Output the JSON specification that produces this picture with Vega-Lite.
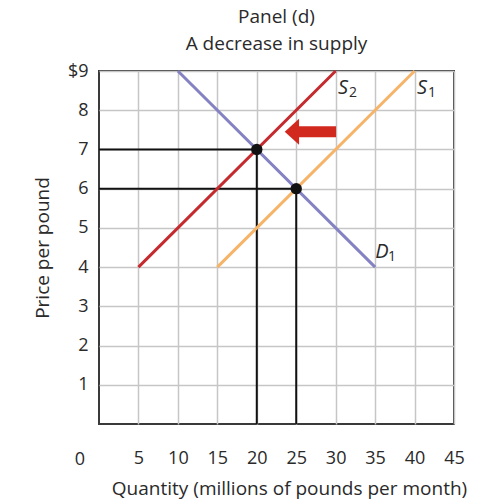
{
  "$schema": "https://vega.github.io/schema/vega-lite/v6.json",
  "width": 355,
  "height": 353,
  "autosize": {"type": "none"},
  "padding": {"left": 99, "top": 71, "right": 41, "bottom": 78},
  "background": "white",
  "config": {
    "font": "Open Sans",
    "view": {"stroke": "#3a3a3a", "strokeWidth": 2}
  },
  "title": {
    "text": ["Panel (d)", "A decrease in supply"],
    "fontSize": 19,
    "fontWeight": "normal",
    "color": "#2a2a2a",
    "anchor": "middle",
    "lineHeight": 27,
    "offset": 8
  },
  "encoding": {
    "x": {
      "field": "x",
      "type": "quantitative",
      "scale": {"domain": [0, 45], "nice": false, "zero": false},
      "axis": {
        "values": [5, 10, 15, 20, 25, 30, 35, 40, 45],
        "grid": true,
        "gridColor": "#c6c6c6",
        "gridWidth": 1.5,
        "domain": false,
        "ticks": false,
        "labelPadding": 25,
        "labelFontSize": 18,
        "labelColor": "#2a2a2a",
        "labelFlush": false,
        "labelOverlap": false,
        "title": "Quantity (millions of pounds per month)",
        "titleFontSize": 19,
        "titleFontWeight": "normal",
        "titleColor": "#2a2a2a",
        "titleBaseline": "middle",
        "titleY": 64,
        "titleX": 190
      }
    },
    "y": {
      "field": "y",
      "type": "quantitative",
      "scale": {"domain": [0, 9], "nice": false, "zero": false},
      "axis": {
        "values": [1, 2, 3, 4, 5, 6, 7, 8, 9],
        "grid": true,
        "gridColor": "#c6c6c6",
        "gridWidth": 1.5,
        "domain": false,
        "ticks": false,
        "labelPadding": 11,
        "labelFontSize": 18,
        "labelColor": "#2a2a2a",
        "labelExpr": "datum.value == 9 ? '$9' : datum.label",
        "title": "Price per pound",
        "titleFontSize": 19,
        "titleFontWeight": "normal",
        "titleColor": "#2a2a2a",
        "titleBaseline": "middle",
        "titleX": -57
      }
    }
  },
  "layer": [
    {
      "data": {"values": [
        {"x": 0, "y": 7, "x2": 20, "y2": 7},
        {"x": 20, "y": 7, "x2": 20, "y2": 0},
        {"x": 0, "y": 6, "x2": 25, "y2": 6},
        {"x": 25, "y": 6, "x2": 25, "y2": 0}
      ]},
      "mark": {"type": "rule", "color": "#111111", "strokeWidth": 2},
      "encoding": {"x2": {"field": "x2"}, "y2": {"field": "y2"}}
    },
    {
      "data": {"values": [
        {"s": "D1", "x": 10, "y": 9, "x2": 35, "y2": 4},
        {"s": "S2", "x": 5, "y": 4, "x2": 30, "y2": 9},
        {"s": "S1", "x": 15, "y": 4, "x2": 40, "y2": 9}
      ]},
      "mark": {"type": "rule", "strokeWidth": 3},
      "encoding": {
        "x2": {"field": "x2"},
        "y2": {"field": "y2"},
        "color": {
          "field": "s",
          "type": "nominal",
          "scale": {"domain": ["D1", "S2", "S1"], "range": ["#8482c2", "#c42a2e", "#f6b469"]},
          "legend": null
        }
      }
    },
    {
      "data": {"values": [{"x": 20, "y": 7}, {"x": 25, "y": 6}]},
      "mark": {"type": "point", "filled": true, "color": "#111111", "opacity": 1, "size": 130}
    },
    {
      "data": {"values": [{"x": 25.1, "y": 7.45, "x2": 30.05}]},
      "mark": {"type": "rule", "color": "#d2291f", "strokeWidth": 11, "strokeCap": "butt"},
      "encoding": {"x2": {"field": "x2"}}
    },
    {
      "data": {"values": [{"x": 24.45, "y": 7.45}]},
      "mark": {"type": "point", "filled": true, "color": "#d2291f", "opacity": 1, "size": 676, "shape": "M-0.55,0L0.55,-1L0.55,1Z"}
    },
    {
      "data": {"values": [
        {"x": 30.93, "y": 8.57, "main": "S", "sub": "2"},
        {"x": 40.94, "y": 8.57, "main": "S", "sub": "1"},
        {"x": 35.87, "y": 4.39, "main": "D", "sub": "1"}
      ]},
      "mark": {"type": "text", "fontSize": 20, "fontStyle": "italic", "color": "#2a2a2a", "align": "center", "baseline": "middle"},
      "encoding": {"text": {"field": "main"}}
    },
    {
      "data": {"values": [
        {"x": 30.93, "y": 8.57, "main": "S", "sub": "2"},
        {"x": 40.94, "y": 8.57, "main": "S", "sub": "1"},
        {"x": 35.87, "y": 4.39, "main": "D", "sub": "1"}
      ]},
      "mark": {"type": "text", "fontSize": 14, "color": "#2a2a2a", "align": "left", "baseline": "middle", "dx": 6, "dy": 5},
      "encoding": {"text": {"field": "sub"}}
    },
    {
      "data": {"values": [{"x": 0, "y": 0, "t": "0"}]},
      "mark": {"type": "text", "fontSize": 18, "color": "#2a2a2a", "align": "center", "baseline": "middle", "dx": -19, "dy": 36},
      "encoding": {"text": {"field": "t"}}
    }
  ]
}
